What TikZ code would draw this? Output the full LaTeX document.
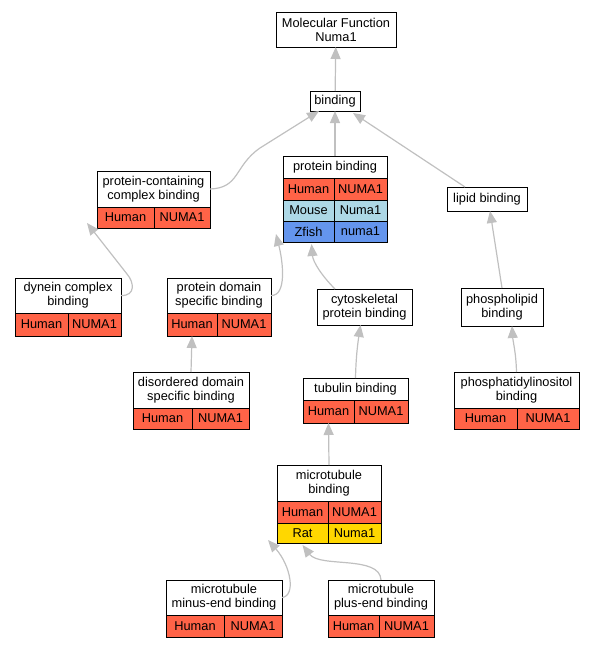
\documentclass[tikz,border=0pt]{standalone}
\usepackage{fontspec}
\setmainfont{Liberation Sans}
\usepackage[dvipsnames]{xcolor}
\usetikzlibrary{arrows.meta}

\definecolor{tomato}{HTML}{FF6347}
\definecolor{lightblue}{HTML}{ADD8E6}
\definecolor{cornflower}{HTML}{6495ED}
\definecolor{goldcell}{HTML}{FFD700}
\definecolor{edgegray}{RGB}{192,192,192}

\tikzset{
    term/.style={draw, line width=1pt, fill=white, anchor=north west, inner sep=0pt, outer sep=0pt,
        align=center, font=\fontsize{12.8}{14}\selectfont},
    human/.style={term, fill=tomato},
    mouse/.style={term, fill=lightblue},
    zfish/.style={term, fill=cornflower},
    rat/.style={term, fill=goldcell},
    isa/.style={draw=edgegray, line width=1.2pt, -{Triangle[length=12pt, width=10pt]}, edgegray}
}

\begin{document}
\begin{tikzpicture}[x=1pt, y=-1pt]
            \useasboundingbox (0, 0) rectangle (593, 648);

            % terms
            \node[term, minimum width=120pt, minimum height=35pt] at (276, 12)   (mf) {Molecular Function\\Numa1};
            \node[term, minimum width=50pt, minimum height=20pt] at (310, 91)   (bind) {binding};

            \node[term, minimum width=113pt, minimum height=36pt] at (97, 171)   (pcch) {protein-containing\\complex binding};
            \node[human, minimum width=57pt, minimum height=21pt] at (97, 207)   (pcchum) {Human};
            \node[human, minimum width=56pt, minimum height=21pt] at (154, 207)   (pccnum) {NUMA1};

            \node[term, minimum width=104pt, minimum height=22pt] at (283, 156)   (pbh) {protein binding};
            \node[human, minimum width=51pt, minimum height=22pt] at (283, 178)   (pbhum) {Human};
            \node[human, minimum width=53pt, minimum height=22pt] at (334, 178)   (pbnum) {NUMA1};
            \node[mouse, minimum width=51pt, minimum height=21pt] at (283, 200)   (pbmou) {Mouse};
            \node[mouse, minimum width=53pt, minimum height=21pt] at (334, 200)   (pbmnum) {Numa1};
            \node[zfish, minimum width=51pt, minimum height=21pt] at (283, 221)   (pbzf) {Zfish};
            \node[zfish, minimum width=53pt, minimum height=21pt] at (334, 221)   (pbznum) {numa1};

            \node[term, minimum width=80pt, minimum height=24pt] at (447, 187)   (lip) {lipid binding};

            \node[term, minimum width=106pt, minimum height=35pt] at (15, 278)   (dynh) {dynein complex\\binding};
            \node[human, minimum width=53pt, minimum height=23pt] at (15, 313)   (dynhum) {Human};
            \node[human, minimum width=53pt, minimum height=23pt] at (68, 313)   (dynnum) {NUMA1};

            \node[term, minimum width=104pt, minimum height=35pt] at (167, 278)   (pdh) {protein domain\\specific binding};
            \node[human, minimum width=50pt, minimum height=23pt] at (167, 313)   (pdhum) {Human};
            \node[human, minimum width=54pt, minimum height=23pt] at (217, 313)   (pdnum) {NUMA1};

            \node[term, minimum width=95pt, minimum height=36pt] at (317, 289)   (cyto) {cytoskeletal\\protein binding};
            \node[term, minimum width=82pt, minimum height=38pt] at (461, 288)   (phos) {phospholipid\\binding};

            \node[term, minimum width=116pt, minimum height=36pt] at (133, 372)   (ddh) {disordered domain\\specific binding};
            \node[human, minimum width=59pt, minimum height=21pt] at (133, 408)   (ddhum) {Human};
            \node[human, minimum width=57pt, minimum height=21pt] at (192, 408)   (ddnum) {NUMA1};

            \node[term, minimum width=105pt, minimum height=22pt] at (303, 378)   (tubh) {tubulin binding};
            \node[human, minimum width=51pt, minimum height=23pt] at (303, 400)   (tubhum) {Human};
            \node[human, minimum width=54pt, minimum height=23pt] at (354, 400)   (tubnum) {NUMA1};

            \node[term, minimum width=125pt, minimum height=36pt] at (454, 372)   (pih) {phosphatidylinositol\\binding};
            \node[human, minimum width=63pt, minimum height=21pt] at (454, 408)   (pihum) {Human};
            \node[human, minimum width=62pt, minimum height=21pt] at (517, 408)   (pinum) {NUMA1};

            \node[term, minimum width=104pt, minimum height=36pt] at (277, 465)   (mbh) {microtubule\\binding};
            \node[human, minimum width=51pt, minimum height=22pt] at (277, 501)   (mbhum) {Human};
            \node[human, minimum width=53pt, minimum height=22pt] at (328, 501)   (mbnum) {NUMA1};
            \node[rat, minimum width=51pt, minimum height=20pt] at (277, 523)   (mbrat) {Rat};
            \node[rat, minimum width=53pt, minimum height=20pt] at (328, 523)   (mbrnum) {Numa1};

            \node[term, minimum width=116pt, minimum height=35pt] at (166, 580)   (meh) {microtubule\\minus-end binding};
            \node[human, minimum width=58pt, minimum height=22pt] at (166, 615)   (mehum) {Human};
            \node[human, minimum width=58pt, minimum height=22pt] at (224, 615)   (menum) {NUMA1};

            \node[term, minimum width=106pt, minimum height=35pt] at (328, 580)   (peh) {microtubule\\plus-end binding};
            \node[human, minimum width=51pt, minimum height=22pt] at (328, 615)   (pehum) {Human};
            \node[human, minimum width=55pt, minimum height=22pt] at (379, 615)   (penum) {NUMA1};

            % is_a edges
            \draw [isa] (bind) -- (mf);
            \draw [isa] (pbh) -- (bind);
            \draw [isa] (pcch.east) .. controls (240, 188) and (234, 166) .. (260, 148) -- ([xshift=9pt]bind.south west);
            \draw [isa] ([xshift=18pt]lip.north west) -- ([xshift=-7pt, yshift=-2pt]bind.south east);
            \draw [isa] (dynh.east) .. controls (136, 296) and (134, 282) .. (127, 274) -- ([shift={(-10pt, 5pt)}]pcchum.south west);
            \draw [isa] (pdh.east) .. controls (287, 296) and (283, 262) .. ([shift={(-7pt, 8pt)}]pbzf.south west);
            \draw [isa] ([xshift=18pt]cyto.north west) .. controls (322, 276) and (313, 262) .. ([xshift=3pt, yshift=-2pt]pbzf.south);
            \draw [isa] (phos.north) -- ([xshift=3pt]lip.south);
            \draw [isa] (ddh.north) -- (pdhum.south);
            \draw [isa] (tubh.north) .. controls (356, 355) and (358, 342) .. ([xshift=-4pt]cyto.south);
            \draw [isa] (pih.north) .. controls (516, 352) and (513, 342) .. ([xshift=10pt]phos.south);
            \draw [isa] (mbh.north) -- (tubhum.south);
            \draw [isa] (meh.east) .. controls (296, 596) and (291, 566) .. ([shift={(-9pt, 3pt)}]mbrat.south west);
            \draw [isa] (peh.north) .. controls (380, 555) and (320, 568) .. ([yshift=-2pt]mbrat.south);
        \end{tikzpicture}
\end{document}
